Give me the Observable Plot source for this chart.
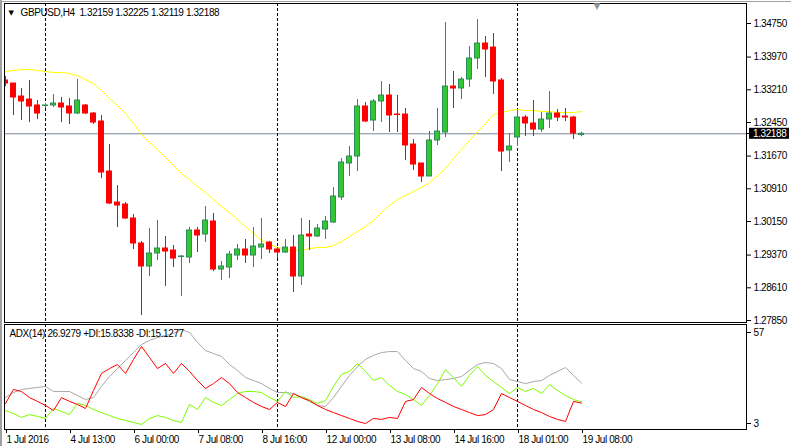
<!DOCTYPE html>
<html><head><meta charset="utf-8">
<script src="https://cdn.jsdelivr.net/npm/d3@7"></script>
<script src="https://cdn.jsdelivr.net/npm/@observablehq/plot@0.6"></script>
<style>
html,body{margin:0;padding:0;background:#fff;}
#wrap{position:relative;width:791px;height:446px;overflow:hidden;background:#fff;}
#wrap svg{position:absolute;left:0;background:transparent;overflow:visible;}
.edge{position:absolute;background:#a0a0a0;}
</style></head><body><div id="wrap"></div>
<script>
// ---- data (H4 candles, index 0..72) ----
const open = [1.33426,1.33356,1.33054,1.32984,1.32845,1.32833,1.32845,1.32891,1.32822,1.32659,
1.32845,1.32659,1.32473,1.31312,1.30591,1.30545,1.30220,1.29639,1.29105,1.29407,
1.29523,1.29476,1.29325,1.29314,1.29941,1.29848,1.30150,1.29035,1.29081,1.29360,
1.29500,1.29360,1.29546,1.29662,1.29500,1.29430,1.29546,1.28872,1.29848,1.29802,
1.29964,1.30127,1.30708,1.31498,1.31660,1.32822,1.32496,1.32938,1.33077,1.32636,
1.32636,1.31939,1.31498,1.31196,1.32032,1.32218,1.33286,1.33240,1.33449,1.33937,
1.34285,1.34192,1.33426,1.31800,1.32102,1.32566,1.32427,1.32287,1.32520,1.32659,
1.32589,1.32566,1.32159];
const high = [1.33519,1.33356,1.33240,1.33426,1.32961,1.32891,1.33101,1.33031,1.33008,1.33449,
1.32868,1.32682,1.32613,1.31939,1.30986,1.30591,1.30313,1.29685,1.29987,1.30173,
1.29802,1.29592,1.29360,1.30011,1.30011,1.30499,1.30336,1.29221,1.29453,1.29616,
1.29732,1.30011,1.30220,1.29685,1.29546,1.29732,1.29825,1.30220,1.30173,1.30080,
1.30266,1.30940,1.31614,1.31892,1.32984,1.32915,1.32984,1.33403,1.33333,1.33077,
1.32775,1.32055,1.31498,1.32241,1.32775,1.34773,1.33635,1.33495,1.34216,1.34843,
1.34448,1.34518,1.33472,1.32194,1.32729,1.32613,1.32961,1.32682,1.33170,1.32752,
1.32775,1.32589,1.32225];
const low = [1.33286,1.32613,1.32496,1.32450,1.32520,1.32775,1.32799,1.32450,1.32404,1.32636,
1.32636,1.32404,1.31149,1.30545,1.30011,1.30197,1.29500,1.27966,1.28872,1.29244,
1.28640,1.29081,1.28408,1.29174,1.29430,1.29662,1.28988,1.28779,1.28826,1.29244,
1.29174,1.29081,1.29267,1.29407,1.29290,1.29407,1.28501,1.28663,1.29476,1.29778,
1.29732,1.30104,1.30638,1.31196,1.31312,1.32450,1.32241,1.32450,1.32218,1.32218,
1.31567,1.31335,1.31056,1.31196,1.31916,1.32102,1.32775,1.32984,1.33263,1.33681,
1.33495,1.33101,1.31312,1.31521,1.31892,1.32125,1.32125,1.32218,1.32311,1.32473,
1.32473,1.32055,1.32119];
const close = [1.33356,1.33031,1.32938,1.32822,1.32659,1.32845,1.32891,1.32799,1.32659,1.32961,
1.32659,1.32450,1.31288,1.30568,1.30522,1.30220,1.29639,1.29105,1.29407,1.29523,
1.29453,1.29290,1.29337,1.29941,1.29825,1.30173,1.29035,1.29105,1.29383,1.29500,
1.29360,1.29569,1.29616,1.29500,1.29430,1.29546,1.28872,1.29825,1.29802,1.29987,
1.30150,1.30731,1.31521,1.31660,1.32822,1.32473,1.32938,1.33077,1.32613,1.32624,
1.31916,1.31474,1.31196,1.32032,1.32241,1.33286,1.33240,1.33449,1.33937,1.34285,
1.34146,1.33403,1.31776,1.31892,1.32566,1.32427,1.32287,1.32520,1.32659,1.32566,
1.32566,1.32194,1.32188];
const ma = [1.33635,1.33658,1.33681,1.33681,1.33658,1.33635,1.33612,1.33612,1.33588,1.33542,
1.33449,1.33356,1.33193,1.33008,1.32845,1.32659,1.32427,1.32171,1.31985,1.31823,
1.31637,1.31451,1.31265,1.31126,1.30963,1.30824,1.30661,1.30499,1.30359,1.30197,
1.30034,1.29871,1.29709,1.29616,1.29546,1.29500,1.29476,1.29476,1.29523,1.29546,
1.29546,1.29592,1.29685,1.29802,1.29918,1.30034,1.30173,1.30359,1.30522,1.30661,
1.30754,1.30847,1.30940,1.31056,1.31219,1.31381,1.31614,1.31823,1.32032,1.32241,
1.32427,1.32636,1.32682,1.32729,1.32752,1.32729,1.32729,1.32706,1.32706,1.32682,
1.32682,1.32682,1.32706];
const adx = [18.4,21.4,23.2,23.8,24.4,25.0,22.0,22.0,22.0,19.6,
17.2,18.4,25.0,30.9,35.6,40.4,45.1,49.9,52.3,54.0,
55.2,56.4,58.8,57.0,51.1,46.3,44.5,42.8,38.0,34.5,
30.3,28.5,26.7,23.8,21.4,21.4,20.8,18.4,16.1,13.7,
13.1,18.4,25.0,31.5,36.8,41.0,43.4,45.1,45.7,45.7,
40.4,35.6,33.9,29.7,28.5,29.1,29.7,30.9,34.5,38.0,
39.2,38.6,35.6,29.1,27.9,26.7,27.9,28.5,31.5,33.9,
36.2,31.5,26.93];
const plusDI = [10.7,8.9,6.6,8.3,7.2,6.0,11.9,10.1,8.3,14.9,
13.7,11.3,9.5,7.7,6.0,4.8,3.6,2.4,6.0,7.7,
6.6,4.8,3.6,14.3,11.3,18.4,15.5,13.7,17.2,20.8,
22.0,22.0,21.4,18.4,16.1,22.0,18.4,19.0,17.2,14.9,
16.6,25.0,32.1,33.9,38.6,33.9,28.5,30.3,25.6,22.0,
20.2,17.2,13.7,19.6,26.7,35.0,30.3,25.0,31.5,36.8,
31.5,27.9,24.4,20.8,24.4,22.0,23.8,20.8,26.1,22.6,
19.6,17.2,15.83];
const minusDI = [14.9,23.2,22.0,18.4,16.1,13.7,10.7,18.4,16.1,14.3,
11.9,22.6,32.7,35.6,38.0,32.7,41.0,48.7,42.2,35.6,
38.6,32.7,38.6,33.9,28.5,23.8,26.7,30.3,26.7,21.4,
18.4,15.5,13.1,11.3,15.5,13.1,20.8,18.4,16.6,13.7,
11.3,9.5,7.7,6.0,4.2,3.0,6.0,5.4,6.6,6.0,
16.1,17.2,24.4,20.8,17.8,15.5,13.1,11.3,9.5,7.7,
8.3,11.3,20.8,18.4,16.1,13.7,11.3,9.5,7.2,5.4,
4.2,16.1,15.13];
const xTickIdx = [0,8,16,24,32,40,48,56,64,72];
const xTickLabels = ["1 Jul 2016","4 Jul 13:00","6 Jul 00:00","7 Jul 08:00","8 Jul 16:00","12 Jul 00:00","13 Jul 08:00","14 Jul 16:00","18 Jul 01:00","19 Jul 08:00"];
const priceTicks = [1.34750,1.33970,1.33210,1.32450,1.31670,1.30910,1.30150,1.29370,1.28610,1.27850];
const adxTicks = [3,57];
const separators = [5,34,64];
const shiftMarker = [73.9];
const titleText = "GBPUSD,H4  1.32159 1.32225 1.32119 1.32188";
const adxText = "ADX(14) 26.9279 +DI:15.8338 -DI:15.1277";
const lastClose = 1.32188;

// ---- build ----
const candles = open.map((o,i)=>({i, o, h:high[i], l:low[i], c:close[i], up: close[i] >= o}));
const maData = ma.map((v,i)=>({i, v}));
const xDomain = [-0.125, 92.625];
const font = {fontFamily:"'Liberation Sans', Arial, sans-serif", fontSize:"10px", letterSpacing:"-0.4px", color:"#000", background:"transparent", overflow:"visible"};
const UPF = "#32c832", UPS = "#2e8b57", DN = "#ff0000";

const wrap = document.getElementById("wrap");

const main = Plot.plot({
  width: 791, height: 324,
  marginLeft: 4, marginRight: 45, marginTop: 3, marginBottom: 2,
  style: font,
  x: {domain: xDomain, axis: null},
  y: {domain: [1.27804, 1.35215]},
  color: {type: "identity"},
  marks: [
    Plot.ruleY([lastClose], {stroke: "#778899"}),
    Plot.ruleX(separators, {stroke: "#000", strokeDasharray: "3,2"}),
    Plot.line(maData, {x: "i", y: "v", stroke: "#ffff00", strokeWidth: 1, clip: true}),
    Plot.ruleX(candles, {x: "i", y1: "l", y2: "h", stroke: d => d.up ? UPS : DN, clip: true}),
    Plot.rect(candles, {x1: d => d.i - 0.31, x2: d => d.i + 0.31, y1: "o", y2: "c",
      fill: d => d.up ? UPF : DN, stroke: d => d.up ? UPS : DN, strokeWidth: 1, clip: true}),
    Plot.frame({stroke: "#000"}),
    Plot.axisY({anchor: "right", ticks: priceTicks, tickSize: 4, tickPadding: 3, label: null,
      tickFormat: d => d.toFixed(5), stroke: "#000", fill: "#000"}),
    Plot.text([titleText], {frameAnchor: "top-left", dx: 16, dy: 9, textAnchor: "start", lineAnchor: "middle", fill: "#000"}),
    Plot.text(["▼"], {frameAnchor: "top-left", dx: 4, dy: 9, textAnchor: "start", lineAnchor: "middle", fill: "#000", fontSize: 7, fontFamily: "DejaVu Sans"}),
    Plot.text(shiftMarker, {x: d => d, frameAnchor: "top", dy: 3, lineAnchor: "middle", text: () => "▼", fill: "#8c949c", fontSize: 9, fontFamily: "DejaVu Sans"})
  ]
});
main.style.top = "0px";
wrap.appendChild(main);

// current price label on the price axis
{
  const ys = main.scale("y").apply(lastClose);
  const xs = main.scale("x").apply(xDomain[1]);
  const s = d3.select(main);
  s.append("line").attr("x1", xs).attr("x2", xs + 4).attr("y1", Math.round(ys) + 0.5).attr("y2", Math.round(ys) + 0.5).attr("stroke", "#000");
  s.append("rect").attr("x", xs + 3).attr("y", ys - 5.5).attr("width", 40).attr("height", 11).attr("fill", "#000");
  s.append("text").attr("x", xs + 7).attr("y", ys).attr("dy", "0.35em").attr("text-anchor", "start")
    .attr("fill", "#fff").text(lastClose.toFixed(5));
}

const sub = Plot.plot({
  width: 791, height: 123,
  marginLeft: 4, marginRight: 45, marginTop: 1, marginBottom: 17,
  style: font,
  x: {domain: xDomain, label: null},
  y: {domain: [-0.56, 61.75], label: null},
  marks: [
    Plot.ruleX(separators, {stroke: "#000", strokeDasharray: "3,2"}),
    Plot.line(adx.map((v,i)=>({i, v})), {x: "i", y: "v", stroke: "#a8a8a8", strokeWidth: 1, clip: true}),
    Plot.line(plusDI.map((v,i)=>({i, v})), {x: "i", y: "v", stroke: "#7cfc00", strokeWidth: 1, clip: true}),
    Plot.line(minusDI.map((v,i)=>({i, v})), {x: "i", y: "v", stroke: "#ff0000", strokeWidth: 1, clip: true}),
    Plot.frame({stroke: "#000"}),
    Plot.axisY({anchor: "right", ticks: adxTicks, tickSize: 4, tickPadding: 3, label: null, tickFormat: d => String(d), stroke: "#000", fill: "#000"}),
    Plot.axisX({anchor: "bottom", ticks: xTickIdx, tickSize: 4, tickPadding: 2, textAnchor: "start", dx: 1, label: null,
      tickFormat: d => xTickLabels[xTickIdx.indexOf(d)], stroke: "#000", fill: "#000"}),
    Plot.text([adxText], {frameAnchor: "top-left", dx: 5, dy: 9, textAnchor: "start", lineAnchor: "middle", fill: "#000"})
  ]
});
sub.style.top = "323px";
wrap.appendChild(sub);

// window edges
const e1 = document.createElement("div"); e1.className = "edge"; e1.style.cssText = "left:0;top:0;width:2px;height:446px;"; wrap.appendChild(e1);
const e2 = document.createElement("div"); e2.className = "edge"; e2.style.cssText = "left:0;top:1px;width:791px;height:1px;"; wrap.appendChild(e2);
</script></body></html>
